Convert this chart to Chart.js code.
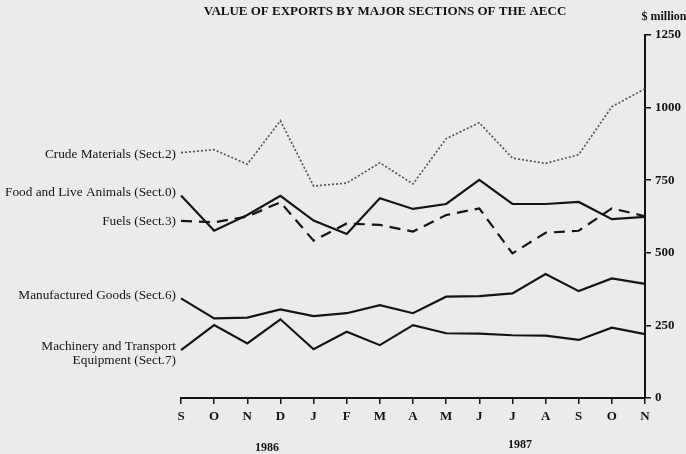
<!DOCTYPE html>
<html>
<head>
<meta charset="utf-8">
<script src="https://cdn.jsdelivr.net/npm/chart.js@4"></script>
<style>
  html, body { margin:0; padding:0; background:#ebebea; }
  canvas { display:block; }
</style>
</head>
<body>
<canvas id="chart" width="686" height="454"></canvas>
<script>
// ===== exports by section, Sep 1986 - Nov 1987 ($ million) =====
const months = ['S','O','N','D','J','F','M','A','M','J','J','A','S','O','N'];
const yTicks = [0, 250, 500, 750, 1000, 1250];

const crude = [845, 855, 805, 955, 730, 740, 810, 737, 893, 948, 826, 808, 838, 1003, 1065];
const food  = [697, 576, 630, 696, 611, 565, 688, 651, 668, 751, 668, 668, 675, 616, 624];
const fuels = [610, 605, 625, 674, 542, 601, 596, 573, 630, 653, 498, 569, 576, 653, 626];
const manuf = [343, 274, 277, 305, 282, 292, 320, 292, 349, 351, 360, 427, 368, 412, 393];
const mach  = [165, 251, 188, 271, 168, 228, 182, 251, 223, 222, 216, 215, 200, 242, 220];

const INK = '#141414';
const SERIF = '"Liberation Serif", "DejaVu Serif", serif';

// labels down the left side (text only)
const seriesLabels = [
  { lines: ['Crude Materials (Sect.2)'], y: 155 },
  { lines: ['Food and Live Animals (Sect.0)'], y: 193 },
  { lines: ['Fuels (Sect.3)'], y: 222 },
  { lines: ['Manufactured Goods (Sect.6)'], y: 296 },
  { lines: ['Machinery and Transport', 'Equipment (Sect.7)'], y: 347 }
];

const textPlugin = {
  id: 'texts',
  afterDraw(chart) {
    const c = chart.ctx;
    c.save();
    c.fillStyle = INK;
    c.textBaseline = 'middle';
    c.textAlign = 'center';

    c.font = 'bold 13px ' + SERIF;
    c.fillText('VALUE OF EXPORTS BY MAJOR SECTIONS OF THE AECC', 385, 12);
    c.font = 'bold 12px ' + SERIF;
    c.fillText('$ million', 664, 17);

    c.font = 'bold 12px ' + SERIF;
    c.fillText('1986', 267, 448);
    c.fillText('1987', 520, 445);

    c.font = '13.3px ' + SERIF;
    c.textAlign = 'right';
    seriesLabels.forEach(l => {
      l.lines.forEach((t, i) => c.fillText(t, 176, l.y + i * 14));
    });
    c.restore();
  }
};

function lineSet(data, opts) {
  return Object.assign({
    data: data, borderColor: INK, borderWidth: 2.2, pointRadius: 0,
    tension: 0, fill: false
  }, opts || {});
}

new Chart(document.getElementById('chart'), {
  type: 'line',
  data: {
    labels: months,
    datasets: [
      lineSet(crude, { borderColor: '#555', borderWidth: 1.7, borderDash: [2, 2] }),
      lineSet(food),
      lineSet(fuels, { borderDash: [11, 7] }),
      lineSet(manuf),
      lineSet(mach)
    ]
  },
  options: {
    responsive: false,
    animation: false,
    layout: { padding: { left: 181, top: 35, right: 0, bottom: 0 } },
    plugins: { legend: { display: false }, tooltip: { enabled: false } },
    scales: {
      x: {
        offset: false,
        grid: { drawOnChartArea: false, tickLength: 6, color: INK, lineWidth: 1.5 },
        border: { color: INK, width: 2 },
        ticks: { color: INK, font: { family: SERIF, size: 13, weight: 'bold' }, padding: 5, autoSkip: false, maxRotation: 0 },
        afterFit: s => { s.height = 56; }
      },
      y: {
        position: 'right',
        min: 0, max: 1250,
        afterBuildTicks: s => { s.ticks = yTicks.map(v => ({ value: v })); },
        grid: { drawOnChartArea: false, tickLength: 6, color: INK, lineWidth: 1.5 },
        border: { color: INK, width: 2 },
        ticks: { color: INK, font: { family: SERIF, size: 13, weight: 'bold' }, padding: 4, callback: v => String(v) },
        afterFit: s => { s.width = 41; }
      }
    }
  },
  plugins: [textPlugin]
});
</script>
</body>
</html>
